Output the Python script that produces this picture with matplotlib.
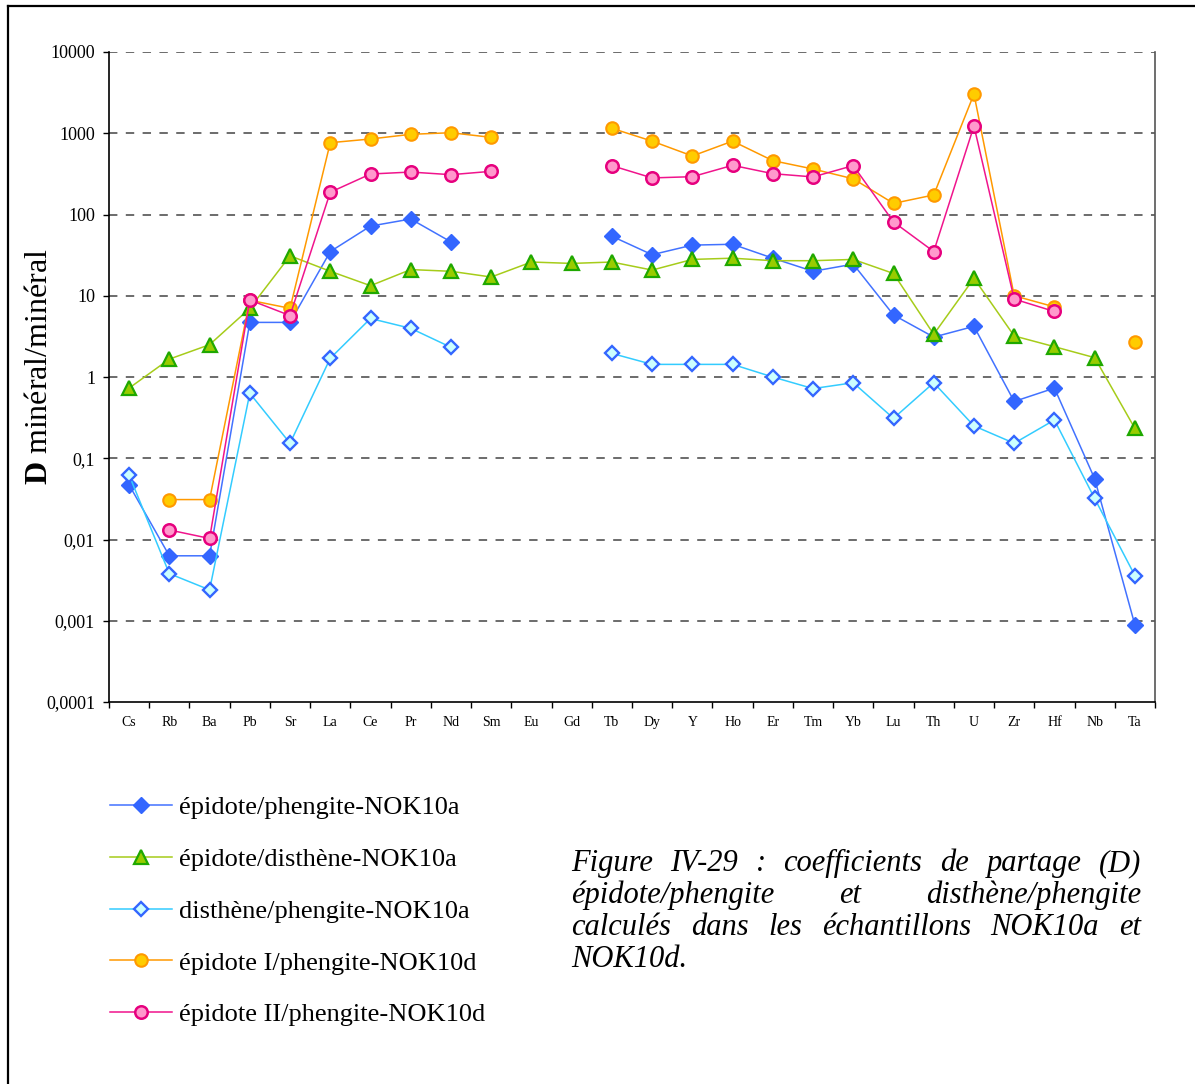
import numpy as np
import matplotlib
matplotlib.use('Agg')
import matplotlib.pyplot as plt
from matplotlib.lines import Line2D
from matplotlib.ticker import FixedLocator, NullFormatter, FixedFormatter

nan = np.nan

elements = ['Cs', 'Rb', 'Ba', 'Pb', 'Sr', 'La', 'Ce', 'Pr', 'Nd', 'Sm', 'Eu', 'Gd', 'Tb',
            'Dy', 'Y', 'Ho', 'Er', 'Tm', 'Yb', 'Lu', 'Th', 'U', 'Zr', 'Hf', 'Nb', 'Ta']

ep_ph_10a = [0.047, 0.0063, 0.0063, 4.7, 4.7, 35, 72, 88, 46, nan, nan, nan, 54,
             32, 42, 43, 29, 20, 24.5, 5.8, 3.1, 4.2, 0.50, 0.73, 0.056, 0.00089]
ep_di_10a = [0.73, 1.66, 2.5, 7.0, 31, 20, 13.3, 21, 20, 17, 26, 25, 26,
             20.7, 28, 29, 27, 27, 28, 18.8, 3.35, 16.4, 3.2, 2.36, 1.73, 0.233]
di_ph_10a = [0.062, 0.0038, 0.0024, 0.63, 0.153, 1.7, 5.25, 3.97, 2.32, nan, nan, nan, 1.95,
             1.43, 1.43, 1.43, 1.0, 0.72, 0.85, 0.31, 0.85, 0.25, 0.153, 0.296, 0.032, 0.0036]
ep1_ph_10d = [nan, 0.031, 0.031, 8.8, 7.0, 765, 850, 970, 1015, 890, nan, nan, 1150,
              800, 525, 800, 460, 363, 275, 137, 174, 3040, 10.0, 7.3, nan, 2.72]
ep2_ph_10d = [nan, 0.0131, 0.0103, 8.87, 5.7, 188, 315, 333, 309, 340, nan, nan, 399,
              282, 292, 403, 318, 290, 400, 81, 35, 1230, 9.1, 6.4, nan, nan]

labels = ['épidote/phengite-NOK10a', 'épidote/disthène-NOK10a', 'disthène/phengite-NOK10a',
          'épidote I/phengite-NOK10d', 'épidote II/phengite-NOK10d']

ytick_vals = [1e-4, 1e-3, 1e-2, 1e-1, 1, 10, 100, 1000, 10000]
ytick_labels = ['0,0001', '0,001', '0,01', '0,1', '1', '10', '100', '1000', '10000']

caption = ['Figure IV-29 : coefficients de partage (D)',
           'épidote/phengite et disthène/phengite',
           'calculés dans les échantillons NOK10a et',
           'NOK10d.']

plt.rcParams['font.family'] = 'Liberation Serif'
plt.rcParams['mathtext.fontset'] = 'custom'
plt.rcParams['mathtext.rm'] = 'Liberation Serif'
plt.rcParams['mathtext.bf'] = 'Liberation Serif:bold'

W, H = 1195, 1084
fig = plt.figure(figsize=(W / 100, H / 100), dpi=100)
ax = fig.add_axes([109 / W, 1 - 702 / H, (1155 - 109) / W, (702 - 52) / H])

x = np.arange(len(elements))

ax.plot(x, ep_ph_10a, color='#4272FF', lw=1.1, marker='D', ms=8.5,
        mfc='#3366FF', mec='#3366FF', mew=1, label=labels[0])
ax.plot(x, ep_di_10a, color='#A6CC1A', lw=1.1, marker='^', ms=10,
        mfc='#99CC00', mec='#1FA800', mew=1.6, label=labels[1])
ax.plot(x, di_ph_10a, color='#33CCFF', lw=1.1, marker='D', ms=7.5,
        mfc='#CCFFFF', mec='#3366FF', mew=1.7, label=labels[2])
ax.plot(x, ep1_ph_10d, color='#FF9900', lw=1.1, marker='o', ms=9,
        mfc='#FFCC00', mec='#FF9900', mew=1.5, label=labels[3])
ax.plot(x, ep2_ph_10d, color='#F0148C', lw=1.1, marker='o', ms=9,
        mfc='#FF99CC', mec='#E6007E', mew=1.8, label=labels[4])

ax.set_yscale('log')
ax.set_ylim(1e-4, 1e4)
ax.set_xlim(-0.5, len(elements) - 0.5)

ax.yaxis.set_major_locator(FixedLocator(ytick_vals))
ax.yaxis.set_major_formatter(FixedFormatter(ytick_labels))
ax.yaxis.set_minor_locator(FixedLocator([]))
ax.tick_params(axis='y', which='major', length=4, width=1, labelsize=13, pad=6)

ax.set_xticks(np.arange(-0.5, len(elements)))
ax.xaxis.set_major_formatter(NullFormatter())
ax.set_xticks(x, minor=True)
ax.set_xticklabels(elements, minor=True)
ax.tick_params(axis='x', which='major', length=4, width=1, direction='out')
ax.tick_params(axis='x', which='minor', length=0, labelsize=10, pad=10)

for v in ytick_vals[1:]:
    ax.axhline(v, color='#444444', lw=1.1, dashes=(5.5, 5.5), zorder=0.5)

ax.spines['top'].set_visible(False)
ax.spines['left'].set_linewidth(1.2)
ax.spines['bottom'].set_linewidth(1.2)
ax.spines['right'].set_color('#555555')
ax.spines['right'].set_linewidth(1.2)

fig.text(40 / W, 1 - 367 / H, r'$\mathbf{D}$ minéral/minéral', rotation=90,
         ha='center', va='center', fontsize=23)

fig.legend(loc='upper left', bbox_to_anchor=(110 / W, 1 - 796 / H), frameon=False,
           fontsize=19, handlelength=2.35, handletextpad=0.27, labelspacing=1.07,
           borderaxespad=0, borderpad=0)

# frame round the figure (only left and top edges are visible)
fig.add_artist(Line2D([8 / W, 8 / W], [0, 1 - 6 / H], color='black', lw=1.6,
                      transform=fig.transFigure))
fig.add_artist(Line2D([8 / W, 1], [1 - 6 / H, 1 - 6 / H], color='black', lw=1.6,
                      transform=fig.transFigure))

# justified caption
fig.canvas.draw()
r = fig.canvas.get_renderer()
left, right = 571, 1141
base_y = [871, 903, 935, 967]
for i, line in enumerate(caption):
    words = line.split()
    texts = [fig.text(0, 1 - base_y[i] / H, w, fontsize=22, style='italic',
                      va='baseline', ha='left') for w in words]
    widths = [t.get_window_extent(r).width for t in texts]
    if i < len(caption) - 1 and len(words) > 1:
        gap = (right - left - sum(widths)) / (len(words) - 1)
    else:
        gap = 6
    pos = left
    for t, wd in zip(texts, widths):
        t.set_x(pos / W)
        pos += wd + gap

fig.savefig('out.png', dpi=100)
